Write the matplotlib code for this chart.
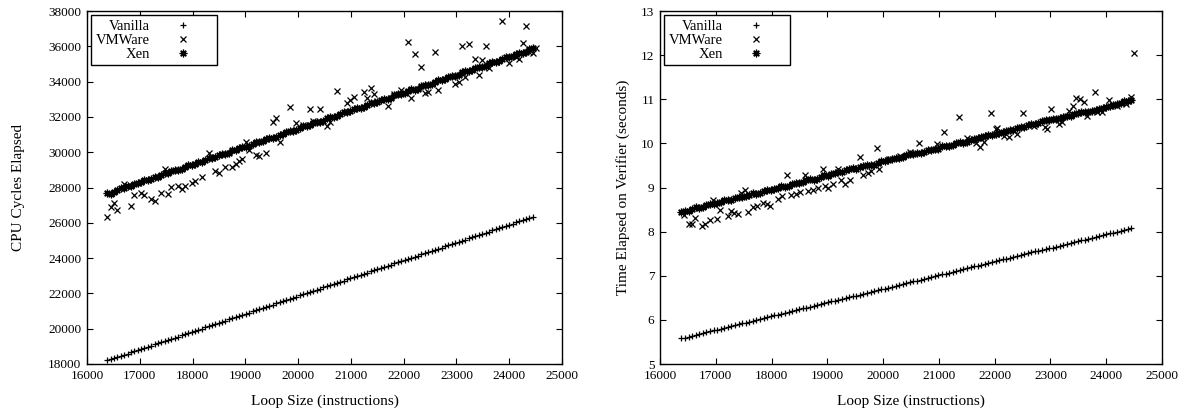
import matplotlib
matplotlib.use("Agg")
import matplotlib.pyplot as plt

plt.rcParams['font.family'] = ['Liberation Serif', 'DejaVu Serif']

# loop sizes for vanilla / xen runs
loop_x = [16384, 16448, 16512, 16576, 16640, 16704, 16768, 16832,
          16896, 16960, 17024, 17088, 17152, 17216, 17280, 17344,
          17408, 17472, 17536, 17600, 17664, 17728, 17792, 17856,
          17920, 17984, 18048, 18112, 18176, 18240, 18304, 18368,
          18432, 18496, 18560, 18624, 18688, 18752, 18816, 18880,
          18944, 19008, 19072, 19136, 19200, 19264, 19328, 19392,
          19456, 19520, 19584, 19648, 19712, 19776, 19840, 19904,
          19968, 20032, 20096, 20160, 20224, 20288, 20352, 20416,
          20480, 20544, 20608, 20672, 20736, 20800, 20864, 20928,
          20992, 21056, 21120, 21184, 21248, 21312, 21376, 21440,
          21504, 21568, 21632, 21696, 21760, 21824, 21888, 21952,
          22016, 22080, 22144, 22208, 22272, 22336, 22400, 22464,
          22528, 22592, 22656, 22720, 22784, 22848, 22912, 22976,
          23040, 23104, 23168, 23232, 23296, 23360, 23424, 23488,
          23552, 23616, 23680, 23744, 23808, 23872, 23936, 24000,
          24064, 24128, 24192, 24256, 24320, 24384, 24448]

vanilla_cpu = [18200, 18265, 18330, 18394, 18459, 18524, 18588, 18653,
               18718, 18782, 18847, 18912, 18976, 19041, 19105, 19170,
               19235, 19300, 19364, 19429, 19493, 19558, 19622, 19687,
               19752, 19816, 19881, 19946, 20010, 20075, 20140, 20204,
               20269, 20334, 20398, 20463, 20527, 20592, 20657, 20721,
               20786, 20851, 20915, 20980, 21045, 21109, 21174, 21239,
               21303, 21368, 21432, 21497, 21562, 21626, 21691, 21756,
               21820, 21885, 21950, 22014, 22079, 22144, 22208, 22273,
               22337, 22402, 22467, 22531, 22596, 22661, 22725, 22790,
               22854, 22919, 22984, 23048, 23113, 23178, 23242, 23307,
               23372, 23436, 23501, 23566, 23630, 23695, 23759, 23824,
               23889, 23953, 24018, 24083, 24147, 24212, 24277, 24341,
               24406, 24471, 24535, 24600, 24664, 24729, 24794, 24858,
               24923, 24988, 25052, 25117, 25181, 25246, 25311, 25375,
               25440, 25505, 25569, 25634, 25699, 25763, 25828, 25893,
               25957, 26022, 26086, 26151, 26216, 26280, 26345]

xen_cpu = [27690, 27650, 27770, 27880, 27950, 27960, 28080, 28100,
           28210, 28230, 28290, 28400, 28450, 28480, 28620, 28610,
           28680, 28800, 28810, 28920, 28990, 29000, 29070, 29180,
           29260, 29270, 29340, 29450, 29460, 29570, 29650, 29660,
           29720, 29840, 29900, 29920, 29970, 30100, 30110, 30220,
           30300, 30290, 30360, 30480, 30560, 30570, 30620, 30740,
           30830, 30820, 30880, 31000, 31010, 31130, 31220, 31210,
           31270, 31390, 31480, 31470, 31530, 31660, 31720, 31730,
           31790, 31920, 31990, 31990, 32060, 32180, 32250, 32250,
           32310, 32430, 32500, 32510, 32570, 32700, 32780, 32760,
           32830, 32960, 33040, 33030, 33090, 33220, 33280, 33290,
           33350, 33480, 33560, 33550, 33600, 33740, 33810, 33810,
           33870, 34000, 34080, 34070, 34120, 34260, 34330, 34330,
           34390, 34520, 34600, 34590, 34650, 34780, 34850, 34850,
           34910, 35040, 35120, 35110, 35170, 35300, 35370, 35370,
           35430, 35560, 35640, 35620, 35690, 35820, 35880]

vm_cpu_x = [16384, 16448, 16512, 16576, 16704, 16832, 16896, 17024,
            17088, 17216, 17280, 17408, 17472, 17536, 17600, 17728,
            17792, 17856, 17984, 18048, 18176, 18304, 18432, 18496,
            18624, 18752, 18816, 18880, 18944, 19008, 19072, 19200,
            19264, 19392, 19520, 19584, 19648, 19840, 19968, 20096,
            20224, 20288, 20416, 20544, 20608, 20736, 20928, 20992,
            21056, 21248, 21312, 21376, 21440, 21504, 21696, 21824,
            21952, 22080, 22144, 22208, 22336, 22400, 22464, 22592,
            22656, 22976, 23040, 23104, 23168, 23232, 23360, 23424,
            23488, 23552, 23616, 23744, 23872, 24000, 24128, 24192,
            24256, 24320, 24384, 24448, 24512]
vm_cpu_y = [26310, 26910, 27140, 26730, 28200, 26950, 27580, 27670,
            27580, 27330, 27250, 27700, 29030, 27630, 28010, 28090,
            27900, 28090, 28270, 28390, 28580, 29970, 28950, 28840,
            29150, 29180, 29330, 29520, 29600, 30600, 30130, 29840,
            29790, 29970, 31730, 31920, 30600, 32540, 31640, 31540,
            32430, 31780, 32430, 31480, 31730, 33470, 32810, 32960,
            33150, 33430, 33060, 33620, 33300, 32880, 32620, 33300,
            33500, 36260, 33060, 35570, 34850, 33370, 33430, 35690,
            33540, 33880, 33970, 36020, 34260, 36130, 35270, 34350,
            35230, 36020, 34750, 35100, 37410, 35080, 35400, 35270,
            36170, 37160, 35690, 35600, 35900]

vanilla_time = [5.58, 5.60, 5.62, 5.64, 5.66, 5.68, 5.70, 5.72,
                5.74, 5.76, 5.78, 5.80, 5.82, 5.84, 5.86, 5.88,
                5.90, 5.92, 5.94, 5.96, 5.98, 6.00, 6.02, 6.04,
                6.06, 6.08, 6.10, 6.12, 6.14, 6.16, 6.18, 6.20,
                6.22, 6.24, 6.26, 6.28, 6.30, 6.32, 6.34, 6.36,
                6.38, 6.40, 6.42, 6.43, 6.45, 6.47, 6.49, 6.51,
                6.53, 6.55, 6.57, 6.59, 6.61, 6.63, 6.65, 6.67,
                6.69, 6.71, 6.73, 6.75, 6.77, 6.79, 6.81, 6.83,
                6.85, 6.87, 6.89, 6.91, 6.93, 6.95, 6.97, 6.99,
                7.01, 7.03, 7.05, 7.07, 7.09, 7.11, 7.13, 7.15,
                7.17, 7.19, 7.21, 7.23, 7.25, 7.27, 7.29, 7.31,
                7.33, 7.35, 7.37, 7.39, 7.41, 7.43, 7.45, 7.47,
                7.49, 7.51, 7.53, 7.55, 7.56, 7.58, 7.60, 7.62,
                7.64, 7.66, 7.68, 7.70, 7.72, 7.74, 7.76, 7.78,
                7.80, 7.82, 7.84, 7.86, 7.88, 7.90, 7.92, 7.94,
                7.96, 7.98, 8.00, 8.02, 8.04, 8.06, 8.08]

xen_time = [8.44, 8.46, 8.47, 8.51, 8.55, 8.54, 8.55, 8.60,
            8.63, 8.62, 8.64, 8.68, 8.71, 8.72, 8.72, 8.76,
            8.79, 8.78, 8.80, 8.84, 8.87, 8.86, 8.88, 8.92,
            8.95, 8.94, 8.96, 9.00, 9.03, 9.02, 9.04, 9.08,
            9.11, 9.10, 9.12, 9.16, 9.19, 9.18, 9.20, 9.24,
            9.28, 9.27, 9.31, 9.33, 9.36, 9.35, 9.39, 9.41,
            9.44, 9.43, 9.46, 9.49, 9.51, 9.50, 9.52, 9.56,
            9.59, 9.60, 9.63, 9.65, 9.67, 9.66, 9.70, 9.73,
            9.75, 9.76, 9.78, 9.79, 9.80, 9.84, 9.86, 9.87,
            9.88, 9.93, 9.95, 9.94, 9.96, 10.00, 10.02, 10.01,
            10.04, 10.08, 10.10, 10.12, 10.14, 10.17, 10.19, 10.20,
            10.22, 10.24, 10.26, 10.29, 10.30, 10.31, 10.34, 10.36,
            10.38, 10.41, 10.43, 10.45, 10.47, 10.50, 10.52, 10.53,
            10.55, 10.56, 10.58, 10.60, 10.62, 10.63, 10.66, 10.68,
            10.70, 10.71, 10.72, 10.74, 10.76, 10.79, 10.80, 10.82,
            10.84, 10.87, 10.90, 10.92, 10.95, 10.97, 10.99]

vm_time_x = [16423, 16512, 16571, 16631, 16750, 16809, 16898, 16958,
             17018, 17077, 17214, 17274, 17333, 17405, 17452, 17524,
             17583, 17673, 17732, 17851, 17911, 17970, 18119, 18179,
             18268, 18357, 18446, 18506, 18607, 18655, 18745, 18834,
             18923, 18952, 19012, 19101, 19190, 19250, 19310, 19399,
             19577, 19637, 19726, 19786, 19893, 19934, 20100, 20300,
             20480, 20648, 20964, 21095, 21363, 21500, 21661, 21738,
             21810, 21929, 22018, 22048, 22167, 22256, 22405, 22506,
             22700, 22911, 22941, 23018, 23148, 23208, 23327, 23398,
             23464, 23536, 23595, 23655, 23791, 23834, 23923, 24041,
             24200, 24350, 24450, 24500]
vm_time_y = [8.37, 8.17, 8.17, 8.31, 8.12, 8.17, 8.26, 8.71,
             8.28, 8.49, 8.35, 8.46, 8.43, 8.41, 8.87, 8.94,
             8.45, 8.56, 8.58, 8.65, 8.62, 8.58, 8.73, 8.80,
             9.28, 8.83, 8.85, 8.90, 9.28, 8.93, 8.94, 9.00,
             9.41, 9.03, 9.00, 9.08, 9.43, 9.17, 9.09, 9.18,
             9.70, 9.28, 9.33, 9.38, 9.89, 9.41, 9.65, 9.72,
             9.80, 10.01, 9.98, 10.26, 10.60, 10.12, 10.01, 9.91,
             10.04, 10.69, 10.32, 10.34, 10.17, 10.15, 10.21, 10.68,
             10.40, 10.36, 10.32, 10.77, 10.45, 10.49, 10.74, 10.85,
             11.02, 11.00, 10.94, 10.62, 11.17, 10.72, 10.72, 10.98,
             10.85, 10.90, 11.05, 12.05]

fig = plt.figure(figsize=(11.92, 4.19), dpi=100)
ax1 = fig.add_axes([87/1192, 1 - 364/419, 475/1192, 353/419])
ax2 = fig.add_axes([660/1192, 1 - 364/419, 502/1192, 353/419])

def draw(ax, van, vmx, vmy, xen):
    ax.plot(loop_x, van, linestyle='none', marker='+', color='black',
            markersize=5, markeredgewidth=0.9, label='Vanilla')
    ax.plot(vmx, vmy, linestyle='none', marker='x', color='black',
            markersize=4, markeredgewidth=0.9, label='VMWare')
    ax.plot(loop_x, xen, linestyle='none', marker=(8, 2, 0), color='black',
            markersize=5.5, markeredgewidth=0.9, label='Xen')
    ax.set_xlim(16000, 25000)
    ax.set_xticks(range(16000, 25001, 1000))
    ax.set_xlabel('Loop Size (instructions)', fontsize=11, labelpad=9)
    ax.tick_params(direction='in', length=4, width=0.8, top=True, right=True,
                   labelsize=9.5, pad=4)
    for s in ax.spines.values():
        s.set_linewidth(1.0)
    leg = ax.legend(loc='upper left', fontsize=10.5, markerfirst=False,
                    handlelength=4, handletextpad=0.3, labelspacing=0.05,
                    borderpad=0.3, borderaxespad=0.3, fancybox=False,
                    framealpha=1, edgecolor='black')
    leg.get_frame().set_linewidth(1.0)

draw(ax1, vanilla_cpu, vm_cpu_x, vm_cpu_y, xen_cpu)
ax1.set_ylim(18000, 38000)
ax1.set_yticks(range(18000, 38001, 2000))
ax1.set_ylabel('CPU Cycles Elapsed', fontsize=11, labelpad=17)

draw(ax2, vanilla_time, vm_time_x, vm_time_y, xen_time)
ax2.set_ylim(5, 13)
ax2.set_yticks(range(5, 14))
ax2.set_ylabel('Time Elapsed on Verifier (seconds)', fontsize=11, labelpad=8)

fig.savefig('out.png', dpi=100)
